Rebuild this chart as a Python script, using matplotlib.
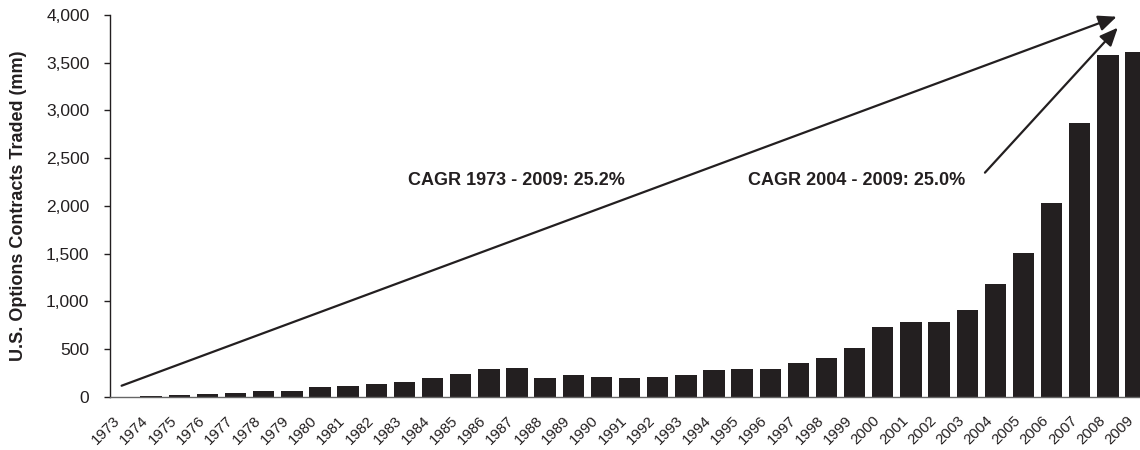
import matplotlib
matplotlib.use("Agg")
import matplotlib.pyplot as plt
from matplotlib.ticker import FuncFormatter

years = list(range(1973, 2010))
contracts = [1.1, 5.7, 18.1, 32.4, 39.3, 57.1, 64.3, 96.7, 109.4, 137.3,
             149.5, 196.4, 233.1, 288.7, 305.2, 196.2, 227.1, 210.5, 198.5, 201.7,
             232.5, 282.3, 286.2, 294.6, 353.1, 407.3, 507.9, 726.4, 781.6, 780.0,
             907.9, 1182.7, 1503.5, 2027.1, 2865.2, 3580.3, 3608.9]
yticks = [0, 500, 1000, 1500, 2000, 2500, 3000, 3500, 4000]
ylabel = "U.S. Options Contracts Traded (mm)"
label1 = "CAGR 1973 - 2009: 25.2%"
label2 = "CAGR 2004 - 2009: 25.0%"
# arrow endpoints in data coords (bar index, value)
arrow1_start = (-0.05, 115)
arrow1_end = (35.31, 3982)
arrow2_start = (30.63, 2348)
arrow2_end = (35.35, 3867)

plt.rcParams['font.family'] = ['Liberation Sans', 'DejaVu Sans']
BAR = '#231f20'

W, H = 1140, 450
fig = plt.figure(figsize=(W / 100, H / 100), dpi=100)
ax = fig.add_axes([110 / W, (H - 396.7) / H, (W - 110) / W, (396.7 - 15) / H])

x = list(range(len(years)))
ax.bar(x, contracts, width=0.76, color=BAR, edgecolor='none', zorder=2)

ax.set_xlim(-0.462, 36.14)
ax.set_ylim(0, 4000)
ax.set_yticks(yticks)
ax.yaxis.set_major_formatter(FuncFormatter(lambda v, p: f"{int(v):,}"))
ax.tick_params(axis='y', length=4.3, width=1, pad=10.5, labelsize=12.5,
               colors='#231f20', direction='out')
ax.set_xticks(x)
ax.set_xticklabels([str(y) for y in years], rotation=45, ha='right', fontsize=10.8)
ax.tick_params(axis='x', length=0, pad=12, colors='#231f20')

for s in ['top', 'right']:
    ax.spines[s].set_visible(False)
ax.spines['left'].set_color('#231f20')
ax.spines['left'].set_linewidth(1)
ax.spines['bottom'].set_color('#666666')
ax.spines['bottom'].set_linewidth(1)

fig.text(19 / W, 1 - 206 / H, ylabel, rotation=90, ha='center', va='center',
         fontsize=13, fontweight='bold', color='#231f20')

fig.text(408 / W, 1 - 185 / H, label1, ha='left', va='baseline',
         fontsize=13, fontweight='bold', color='#231f20')
fig.text(748 / W, 1 - 185 / H, label2, ha='left', va='baseline',
         fontsize=13, fontweight='bold', color='#231f20')

aprops = dict(arrowstyle='-|>,head_length=0.55,head_width=0.24', mutation_scale=20,
              color='#231f20', lw=1.6, shrinkA=0, shrinkB=0)
ax.annotate('', xy=arrow1_end, xytext=arrow1_start, arrowprops=aprops,
            annotation_clip=False, zorder=3)
ax.annotate('', xy=arrow2_end, xytext=arrow2_start, arrowprops=aprops,
            annotation_clip=False, zorder=3)

fig.savefig('out.png', dpi=100)
